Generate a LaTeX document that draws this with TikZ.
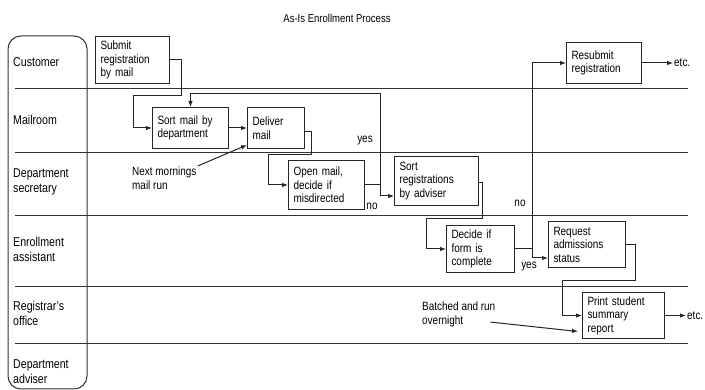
\documentclass[tikz,border=0pt]{standalone}
\usepackage{fontspec}
\setmainfont{Liberation Sans}[FakeStretch=0.83]
\usetikzlibrary{arrows.meta}

\begin{document}
\begin{tikzpicture}[
  x=1pt, y=-1pt,
  font=\fontsize{12}{13.5}\selectfont,
  every node/.style={text=black},
  box/.style={
    draw=black!85, line width=1pt,
    anchor=north west,
    inner xsep=5pt, inner ysep=2pt,
    align=left
  },
  lane/.style={
    font=\fontsize{12.8}{15}\selectfont,
    anchor=west, align=left, inner sep=0pt
  },
  sep/.style={draw=black!80, line width=1pt},
  flow/.style={
    -{Latex[length=6pt,width=4.5pt]},
    line width=1pt, draw=black!85},
  note/.style={
    anchor=north west, align=left,
    inner sep=1pt},
  tag/.style={inner sep=1pt}
]
\useasboundingbox (0,0) rectangle (705,390);

\node (title) at (337,18)
  {\fontsize{11.5}{13}\selectfont As-Is Enrollment Process};

\draw[sep, rounded corners=13pt] (8,36) rectangle (87,389);
\foreach \y in {89,153,216,287,344}
  \draw[sep] (15,\y) -- (688,\y);

\node[lane] (customer) at (13,62) {Customer};
\node[lane] (mailroom) at (13,120) {Mailroom};
\node[lane] (secretary) at (13,182)
  {Department\\secretary};
\node[lane] (assistant) at (13,249)
  {Enrollment\\assistant};
\node[lane] (registrar) at (13,313)
  {Registrar's\\office};
\node[lane] (adviser) at (13,372)
  {Department\\adviser};

\node[box, text width=64pt, minimum height=47pt] (submit) at (95,36)
  {Submit\\registration\\by mail};
\node[box, text width=66pt, minimum height=41pt] (sortmail) at (152,107)
  {Sort mail by\\department};
\node[box, text width=47pt, minimum height=41pt] (deliver) at (247,107)
  {Deliver\\mail};
\node[box, text width=66pt, minimum height=49pt] (openmail) at (288,160)
  {Open mail,\\decide if\\misdirected};
\node[box, text width=74pt, minimum height=49pt] (sortreg) at (394,156)
  {Sort\\registrations\\by adviser};
\node[box, text width=58pt, minimum height=47pt] (decide) at (446,225)
  {Decide if\\form is\\complete};
\node[box, text width=67pt, minimum height=46pt] (request) at (548,221)
  {Request\\admissions\\status};
\node[box, text width=72pt, minimum height=46pt] (print) at (582,292)
  {Print student\\summary\\report};
\node[box, text width=65pt, minimum height=41pt] (resubmit) at (566,42)
  {Resubmit\\registration};

\node[tag, anchor=west] (etcone) at (resubmit.east -| 673,0) {etc.};
\node[tag, anchor=west] (etctwo) at (print.east -| 686,0) {etc.};

\node[note] (nextrun) at (131,166) {Next mornings\\mail run};
\node[note] (batch) at (421,301) {Batched and run\\overnight};

\coordinate (jmis) at (openmail.east -| 380,0);
\coordinate (jdec) at (decide.east -| 532,0);

\draw[flow] (submit.east) -| (181,96) -- (133,96) |- (sortmail.west);
\draw[flow] (sortmail) -- (deliver);
\draw[flow] ([yshift=-4pt]deliver.east) -| (311,155) -- (268,155)
  |- (openmail.west);
\draw[flow] (openmail.east) -- (jmis) |- (sortreg.west |- 0,196);
\draw[flow] (jmis) -- (380,94) -| (sortmail.north);
\draw[flow] ([yshift=-2pt]sortreg.east) -| (482,219) -- (426,219)
  |- (decide.west);
\draw[flow] (decide.east) -- (jdec) |- (request.west |- 0,258);
\draw[flow] (jdec) |- (resubmit.west);
\draw[flow] (request.east) -| (635,281) -- (562,281) |- (print.west);
\draw[flow] (resubmit) -- (etcone);
\draw[flow] (print) -- (etctwo);

\node[tag] (yesmis) at (365,141) {yes};
\node[tag] (nomis) at (372,206) {no};
\node[tag] (nodec) at (520,203) {no};
\node[tag] (yesdec) at (529,267) {yes};

\draw[flow] (nextrun.north east) -- ([yshift=4pt]deliver.south west);
\draw[flow] ([xshift=-6pt,yshift=6pt]batch.south east)
  -- ([xshift=-4pt,yshift=-16pt]print.west);
\end{tikzpicture}
\end{document}
